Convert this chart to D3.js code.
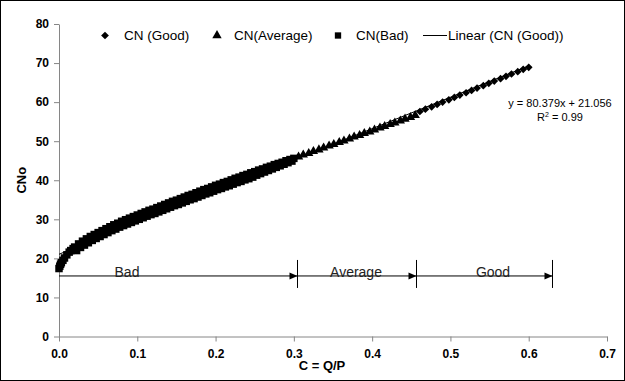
<!DOCTYPE html>
<html>
<head>
<meta charset="utf-8">
<script src="https://cdn.jsdelivr.net/npm/d3@7"></script>
<style>
  body { margin: 0; background: #fff; }
  svg text { font-family: "Liberation Sans", Arial, sans-serif; }
</style>
</head>
<body>
<svg id="drawing_region"></svg>
<script>
// CN(Bad) points [C, CNo] - upper edge of the band
const cnBad = [
  [0.000,17.4],[0.001,18.0],[0.002,18.5],[0.003,18.9],[0.005,19.5],[0.007,20.1],[0.010,20.9],
  [0.013,21.6],[0.015,22.0],[0.018,22.5],[0.020,22.9],[0.025,23.7],[0.030,24.4],[0.035,25.0],
  [0.040,25.6],[0.045,26.1],[0.050,26.6],[0.055,27.1],[0.060,27.6],[0.065,28.1],[0.070,28.6],
  [0.075,29.0],[0.080,29.5],[0.085,29.9],[0.090,30.3],[0.095,30.7],[0.100,31.1],[0.105,31.5],
  [0.110,31.9],[0.115,32.3],[0.120,32.6],[0.125,33.0],[0.130,33.4],[0.135,33.8],[0.140,34.2],
  [0.145,34.6],[0.150,34.9],[0.155,35.3],[0.160,35.7],[0.165,36.1],[0.170,36.4],[0.175,36.8],
  [0.180,37.2],[0.185,37.6],[0.190,37.9],[0.195,38.3],[0.200,38.7],[0.205,39.0],[0.210,39.4],
  [0.215,39.7],[0.220,40.1],[0.225,40.5],[0.230,40.8],[0.235,41.2],[0.240,41.5],[0.245,41.9],
  [0.250,42.2],[0.255,42.6],[0.260,42.9],[0.265,43.3],[0.270,43.6],[0.275,44.0],[0.280,44.3],
  [0.285,44.6],[0.290,45.0],[0.295,45.3],[0.300,45.6]
];
// CN(Bad) points - lower edge of the band
const cnBadLow = [
  [0.0225,22.0],[0.0275,22.8],[0.0325,23.4],[0.0375,24.0],[0.0425,24.6],[0.0475,25.1],[0.0525,25.6],
  [0.0575,26.1],[0.0625,26.6],[0.0675,27.1],[0.0725,27.5],[0.0775,28.0],[0.0825,28.4],[0.0875,28.8],
  [0.0925,29.2],[0.0975,29.6],[0.1025,30.0],[0.1075,30.4],[0.1125,30.8],[0.1175,31.2],[0.1225,31.5],
  [0.1275,31.9],[0.1325,32.3],[0.1375,32.7],[0.1425,33.1],[0.1475,33.5],[0.1525,33.8],[0.1575,34.2],
  [0.1625,34.6],[0.1675,35.0],[0.1725,35.3],[0.1775,35.7],[0.1825,36.1],[0.1875,36.5],[0.1925,36.8],
  [0.1975,37.2],[0.2025,37.6],[0.2075,37.9],[0.2125,38.3],[0.2175,38.6],[0.2225,39.0],[0.2275,39.4],
  [0.2325,39.7],[0.2375,40.1],[0.2425,40.4],[0.2475,40.8],[0.2525,41.3],[0.2575,41.7],[0.2625,42.1],
  [0.2675,42.5],[0.2725,42.9],[0.2775,43.3],[0.2825,43.7],[0.2875,44.1],[0.2925,44.5],[0.2975,44.9]
];
// CN(Average)
const cnAverage = [
  [0.306,46.0],[0.312,46.5],[0.319,46.9],[0.325,47.4],[0.332,47.8],[0.338,48.3],[0.345,48.8],
  [0.351,49.2],[0.358,49.7],[0.364,50.1],[0.371,50.6],[0.377,51.1],[0.384,51.5],[0.390,52.0],
  [0.397,52.4],[0.403,52.9],[0.410,53.4],[0.416,53.8],[0.423,54.3],[0.429,54.7],[0.436,55.2],
  [0.442,55.7],[0.449,56.1],[0.455,56.6]
];
// CN(Good)
const cnGood = [
  [0.461,57.6],[0.468,58.2],[0.476,58.8],[0.483,59.4],[0.490,60.0],[0.498,60.6],[0.505,61.2],
  [0.512,61.8],[0.520,62.4],[0.527,63.0],[0.534,63.6],[0.542,64.2],[0.549,64.8],[0.556,65.4],
  [0.564,66.0],[0.571,66.6],[0.578,67.2],[0.586,67.8],[0.593,68.4],[0.600,68.9]
];
// linear trend of CN(Good)
const trendSlope = 80.379, trendIntercept = 21.056;
const trendRange = [0, 0.6];

const xTicks = [0, 0.1, 0.2, 0.3, 0.4, 0.5, 0.6, 0.7];
const yTicks = [0, 10, 20, 30, 40, 50, 60, 70, 80];

// class ranges (Bad / Average / Good) drawn at CNo = 15.5
const classLevel = 15.5;
const classBounds = [0, 0.3045, 0.456, 0.630];
const classNames = ["Bad", "Average", "Good"];

const legendItems = ["CN (Good)", "CN(Average)", "CN(Bad)", "Linear (CN (Good))"];

const width = 625, height = 381;

const svg = d3.select('#drawing_region')
    .attr('width', width)
    .attr('height', height);

svg.append('rect')
    .attr('x', 0.5).attr('y', 0.5)
    .attr('width', width - 1).attr('height', height - 1)
    .attr('fill', '#fff')
    .attr('stroke', '#000');

const xscale = d3.scaleLinear().domain([0, 0.7]).range([59, 607]);
const yscale = d3.scaleLinear().domain([0, 80]).range([336.5, 24]);

// axes
const xaxis_group = svg.append('g')
    .attr('transform', `translate(0, ${yscale(0)})`)
    .call(d3.axisBottom(xscale).tickValues(xTicks).tickFormat(d3.format('.1f')).tickSize(5).tickSizeOuter(0));
const yaxis_group = svg.append('g')
    .attr('transform', `translate(${xscale(0)}, 0)`)
    .call(d3.axisLeft(yscale).tickValues(yTicks).tickSize(5).tickSizeOuter(0));

[xaxis_group, yaxis_group].forEach(g => {
    g.select('.domain').attr('stroke', '#868686');
    g.selectAll('.tick line').attr('stroke', '#868686');
    g.selectAll('.tick text')
        .attr('fill', '#000')
        .attr('font-size', '12px')
        .attr('font-weight', 'bold')
        .style('font-family', '"Liberation Sans", Arial, sans-serif');
});
xaxis_group.selectAll('.tick text').attr('dy', '1.1em');
yaxis_group.selectAll('.tick text').attr('x', -10);

// axis titles
svg.append('text')
    .attr('x', 322).attr('y', 370)
    .attr('text-anchor', 'middle')
    .attr('font-size', '13px').attr('font-weight', 'bold')
    .text('C = Q/P');
svg.append('text')
    .attr('transform', `translate(26, ${yscale(40)}) rotate(-90)`)
    .attr('text-anchor', 'middle')
    .attr('font-size', '13px').attr('font-weight', 'bold')
    .text('CNo');

// trend line
svg.append('line')
    .attr('x1', xscale(trendRange[0])).attr('y1', yscale(trendIntercept + trendSlope * trendRange[0]))
    .attr('x2', xscale(trendRange[1])).attr('y2', yscale(trendIntercept + trendSlope * trendRange[1]))
    .attr('stroke', '#000').attr('stroke-width', 1);

const square = d3.symbol().type(d3.symbolSquare).size(56);
const triangle = d3.symbol().type(d3.symbolTriangle).size(38);
const diamond = d3.symbol().type(d3.symbolSquare).size(30);

svg.append('g').selectAll('path')
    .data(cnBad.concat(cnBadLow)).join('path')
    .attr('d', square)
    .attr('transform', d => `translate(${xscale(d[0])}, ${yscale(d[1])})`)
    .attr('fill', '#000');
svg.append('g').selectAll('path')
    .data(cnAverage).join('path')
    .attr('d', triangle)
    .attr('transform', d => `translate(${xscale(d[0])}, ${yscale(d[1])})`)
    .attr('fill', '#000');
svg.append('g').selectAll('path')
    .data(cnGood).join('path')
    .attr('d', diamond)
    .attr('transform', d => `translate(${xscale(d[0])}, ${yscale(d[1])}) rotate(45)`)
    .attr('fill', '#000');

// class ranges
const cy = yscale(classLevel);
svg.append('line')
    .attr('x1', xscale(classBounds[0])).attr('x2', xscale(classBounds[classBounds.length - 1]))
    .attr('y1', cy).attr('y2', cy)
    .attr('stroke', '#000');
classBounds.slice(1).forEach(b => {
    const bx = Math.round(xscale(b)) + 0.5;
    svg.append('line')
        .attr('x1', bx).attr('x2', bx)
        .attr('y1', cy - 16).attr('y2', cy + 12)
        .attr('stroke', '#000');
    svg.append('path')
        .attr('d', `M${bx},${cy} L${bx - 8},${cy - 3.5} L${bx - 8},${cy + 3.5} Z`)
        .attr('fill', '#000');
});
const classLabelX = [127, 356, 493];
classNames.forEach((name, i) => {
    svg.append('text')
        .attr('x', classLabelX[i]).attr('y', cy + 1)
        .attr('text-anchor', 'middle')
        .attr('font-size', '14px')
        .attr('fill', '#222')
        .text(name);
});

// equation
svg.append('text')
    .attr('x', 560).attr('y', 107)
    .attr('text-anchor', 'middle')
    .attr('font-size', '11px')
    .text('y = 80.379x + 21.056');
const r2 = svg.append('text')
    .attr('x', 560).attr('y', 121)
    .attr('text-anchor', 'middle')
    .attr('font-size', '11px');
r2.append('tspan').text('R');
r2.append('tspan').attr('font-size', '7px').attr('dy', -4).text('2');
r2.append('tspan').attr('dy', 4).text(' = 0.99');

// legend
const ly = 35.5;
const legend = svg.append('g');
legend.append('path').attr('d', diamond).attr('transform', `translate(105, ${ly}) rotate(45)`);
legend.append('path').attr('d', triangle).attr('transform', `translate(217, ${ly})`);
legend.append('path').attr('d', d3.symbol().type(d3.symbolSquare).size(40)).attr('transform', `translate(338, ${ly})`);
legend.append('line').attr('x1', 423).attr('x2', 447).attr('y1', ly).attr('y2', ly).attr('stroke', '#000');
const legendX = [124, 234, 356, 448];
legendItems.forEach((t, i) => {
    legend.append('text')
        .attr('x', legendX[i]).attr('y', ly + 4.5)
        .attr('font-size', '13.5px')
        .text(t);
});
</script>
</body>
</html>
